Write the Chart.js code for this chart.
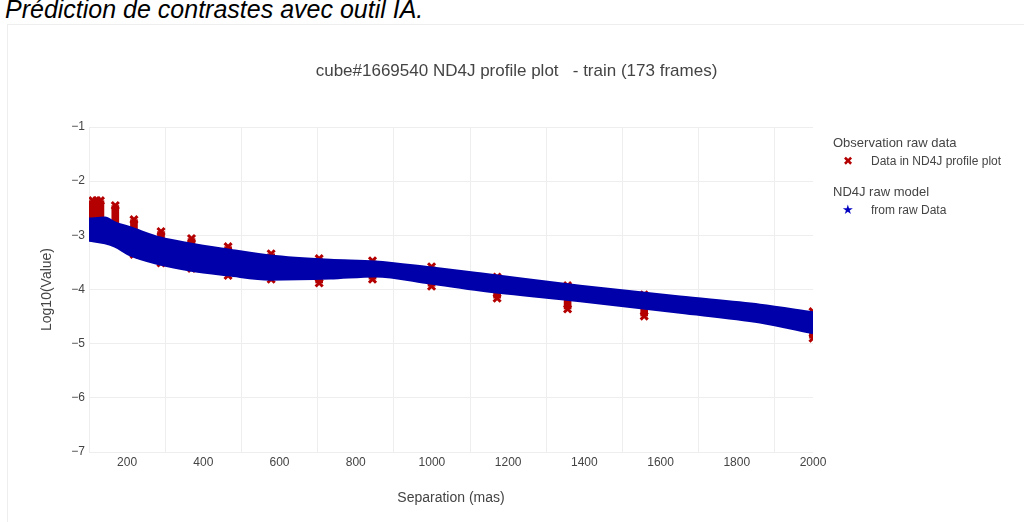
<!DOCTYPE html>
<html>
<head>
<meta charset="utf-8">
<script src="https://cdn.jsdelivr.net/npm/chart.js@4.4.1/dist/chart.umd.min.js"></script>
<style>
body{margin:0;background:#fff;width:1024px;height:522px;overflow:hidden;position:relative;font-family:"Liberation Sans",Arial,sans-serif;}
#head{position:absolute;left:5px;top:-3px;font-size:25px;font-style:italic;line-height:25px;color:#000;white-space:nowrap;}
#frame{position:absolute;left:7px;top:24px;width:1030px;height:510px;border:1px solid #eee;}
#plot{position:absolute;left:7px;top:25px;}
#title{position:absolute;top:61px;left:0;width:1033px;text-align:center;font-size:17px;line-height:20px;color:#444;white-space:pre;}
.leg{position:absolute;color:#444;white-space:nowrap;line-height:16px;}
</style>
</head>
<body>
<div id="head">Prédiction de contrastes avec outil IA.</div>
<div id="frame"></div>
<canvas id="plot" width="1017" height="497"></canvas>
<div id="title"></div>
<div class="leg" style="left:833px;top:135px;font-size:13px;">Observation raw data</div>
<div class="leg" style="left:843px;top:153px;font-size:12px;color:#b40000;">✖</div>
<div class="leg" style="left:871px;top:153px;font-size:12px;">Data in ND4J profile plot</div>
<div class="leg" style="left:833px;top:184px;font-size:13px;">ND4J raw model</div>
<div class="leg" style="left:842px;top:202px;font-size:13px;color:#0000c0;">★</div>
<div class="leg" style="left:871px;top:202px;font-size:12px;">from raw Data</div>
<script>
var titleText = 'cube#1669540 ND4J profile plot   - train (173 frames)';
var xTicks = [200, 400, 600, 800, 1000, 1200, 1400, 1600, 1800, 2000];
var yTicks = [-1, -2, -3, -4, -5, -6, -7];

// model band (edges of the blue ribbon)
var bandSep  = [100, 142, 168, 208, 287, 365, 465, 575, 733, 851, 995, 1126, 1389, 1651, 1861, 2000];
var bandHigh = [-2.70, -2.68, -2.77, -2.86, -3.05, -3.16, -3.27, -3.38, -3.46, -3.49, -3.60, -3.71, -3.94, -4.14, -4.29, -4.43];
var bandLow  = [-3.09, -3.14, -3.20, -3.36, -3.53, -3.64, -3.73, -3.81, -3.79, -3.75, -3.88, -4.01, -4.21, -4.42, -4.60, -4.80];

// observation columns (min / max per separation)
var obsSep    = [110, 120, 130, 169, 218, 289, 369, 465, 578, 704, 844, 999, 1171, 1356, 1557, 2000];
var obsTop    = [-2.36, -2.36, -2.36, -2.45, -2.71, -2.93, -3.06, -3.21, -3.34, -3.43, -3.47, -3.58, -3.77, -3.93, -4.10, -4.41];
var obsBottom = [-2.98, -2.98, -2.98, -3.08, -3.35, -3.51, -3.61, -3.74, -3.81, -3.88, -3.81, -3.94, -4.16, -4.36, -4.49, -4.90];

document.getElementById('title').textContent = titleText;

var blue = '#0000aa';
var red = '#b40000';
var txt = '#444';
var font = 'Liberation Sans, Arial, sans-serif';

function pts(xs, ys) {
    return xs.map(function (x, i) { return {x: x, y: ys[i]}; });
}

var ctx = document.getElementById('plot').getContext('2d');
var chart = new Chart(ctx, {
    type: 'line',
    data: {
        datasets: [{
            data: pts(bandSep, bandLow),
            borderColor: blue,
            borderWidth: 3,
            pointRadius: 0,
            cubicInterpolationMode: 'monotone',
            fill: false,
            order: 0
        }, {
            data: pts(bandSep, bandHigh),
            borderColor: blue,
            backgroundColor: blue,
            borderWidth: 3,
            pointRadius: 0,
            cubicInterpolationMode: 'monotone',
            fill: '-1',
            order: 0
        }, {
            type: 'bar',
            data: obsSep.map(function (s, i) { return {x: s, y: [obsBottom[i], obsTop[i]]}; }),
            backgroundColor: red,
            barThickness: 7,
            grouped: false,
            clip: 0,
            order: 5
        }, {
            data: pts(obsSep, obsTop),
            showLine: false,
            pointStyle: 'crossRot',
            pointRadius: 5,
            borderWidth: 3,
            borderColor: red,
            clip: 0,
            order: 5
        }, {
            data: pts(obsSep, obsBottom),
            showLine: false,
            pointStyle: 'crossRot',
            pointRadius: 5,
            borderWidth: 3,
            borderColor: red,
            clip: 0,
            order: 5
        }]
    },
    options: {
        responsive: false,
        animation: false,
        layout: {padding: {left: 0, top: 102, right: 211, bottom: 0}},
        plugins: {legend: {display: false}, tooltip: {enabled: false}},
        scales: {
            x: {
                type: 'linear',
                min: 100,
                max: 2000,
                offset: false,
                afterBuildTicks: function (a) { a.ticks = xTicks.map(function (v) { return {value: v}; }); },
                afterFit: function (a) { a.height = 70; },
                grid: {color: '#eeeeee', drawTicks: false},
                border: {display: false},
                ticks: {
                    color: txt, font: {family: font, size: 12}, padding: 3, maxRotation: 0,
                    callback: function (v) { return String(v); }
                },
                title: {display: true, text: 'Separation (mas)', color: txt, font: {family: font, size: 14}, padding: {top: 4, bottom: 15.6}}
            },
            y: {
                min: -7,
                max: -1,
                afterBuildTicks: function (a) { a.ticks = yTicks.map(function (v) { return {value: v}; }); },
                afterFit: function (a) { a.width = 82; },
                grid: {color: '#eeeeee', drawTicks: false},
                border: {display: false},
                ticks: {
                    color: txt, font: {family: font, size: 12}, padding: 4,
                    callback: function (v) { return String(v).replace('-', '\u2212'); }
                },
                title: {display: true, text: 'Log10(Value)', color: txt, font: {family: font, size: 14}, padding: {top: 31.6, bottom: 4}}
            }
        }
    }
});
</script>
</body>
</html>
